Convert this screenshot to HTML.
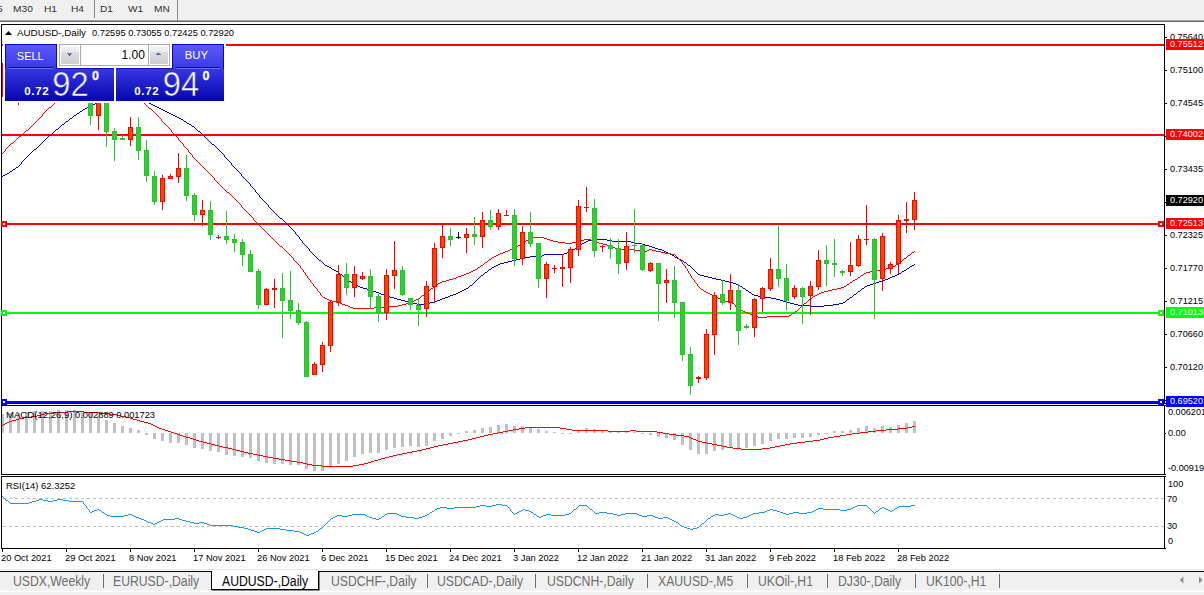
<!DOCTYPE html>
<html><head><meta charset="utf-8"><title>AUDUSD-,Daily</title>
<style>
html,body{margin:0;padding:0;background:#fff;overflow:hidden;}
body{width:1204px;height:595px;position:relative;overflow:hidden;font-family:"Liberation Sans",sans-serif;}
.t{position:absolute;white-space:nowrap;line-height:1.2;transform-origin:0 0;font-family:"Liberation Sans",sans-serif;}
.abs{position:absolute;}
#tb{left:0;top:0;width:1204px;height:19px;background:#f0f0f0;}
#tb1{left:0;top:19px;width:1204px;height:1px;background:#f6f6f6;}
#tb2{left:0;top:20px;width:1204px;height:1px;background:#a0a0a0;}
#tb3{left:0;top:21px;width:1204px;height:1px;background:#696969;}
.sep{width:1px;background:#8c8c8c;top:0;height:18px;}
#d1{left:95px;top:0;width:24px;height:18px;background-color:#f8f8f8;
  background-image:linear-gradient(45deg,#e9e9e9 25%,transparent 25%,transparent 75%,#e9e9e9 75%),linear-gradient(45deg,#e9e9e9 25%,transparent 25%,transparent 75%,#e9e9e9 75%);
  background-size:2px 2px;background-position:0 0,1px 1px;}
#tabbar{left:0;top:572px;width:1204px;height:23px;background:#f0f0f0;}
#tabl0{left:0;top:569px;width:1204px;height:1px;background:#e3e3e3;}
#tabl1{left:0;top:571px;width:1204px;height:1px;background:#000;}
#tabl2{left:0;top:590px;width:1204px;height:2px;background:linear-gradient(#f6f6f6 50%,#fff 50%);}
#tabact{left:211px;top:571px;width:106px;height:18px;background:#fff;border:1px solid #000;border-top:none;box-shadow:1px 1px 0 #888;}
.tsep{width:1px;height:14px;top:574px;background:#6d6d6d;}
/* trade panel */
#panel{left:3px;top:42px;width:223px;height:61px;background:#fff;}
.blue{position:absolute;}
</style></head><body>
<div class="abs" id="tb"></div><div class="abs" id="tb1"></div><div class="abs" id="tb2"></div><div class="abs" id="tb3"></div>
<div class="abs sep" style="left:94px"></div><div class="abs" id="d1"></div><div class="abs sep" style="left:177px;height:20px"></div>
<svg class="abs" style="left:0;top:0" width="1204" height="595" viewBox="0 0 1204 595" shape-rendering="crispEdges">
<rect x="1" y="24" width="1" height="525" fill="#000"/>
<rect x="1" y="24" width="1164" height="1" fill="#000"/>
<rect x="1164" y="24" width="1" height="525" fill="#000"/>
<rect x="1" y="403" width="1164" height="1" fill="#000"/>
<rect x="1" y="405" width="1164" height="1" fill="#000"/>
<rect x="1" y="474" width="1164" height="1" fill="#000"/>
<rect x="1" y="476" width="1164" height="1" fill="#000"/>
<rect x="1" y="548" width="1164" height="1" fill="#000"/>
<rect x="0" y="404" width="1204" height="1" fill="#fff"/>
<rect x="0" y="475" width="1204" height="1" fill="#fff"/>
<line x1="3" y1="498.5" x2="1164" y2="498.5" stroke="#C0C0C0" stroke-width="1" stroke-dasharray="3 3"/>
<line x1="3" y1="526.5" x2="1164" y2="526.5" stroke="#C0C0C0" stroke-width="1" stroke-dasharray="3 3"/>
<rect x="2" y="44" width="1162" height="2" fill="#FF0000"/>
<rect x="2" y="134" width="1162" height="2" fill="#FF0000"/>
<rect x="2" y="223" width="1162" height="2" fill="#FF0000"/>
<rect x="2" y="312" width="1162" height="2" fill="#00FF00"/>
<path d="M118 95h9v1h-9zM109 96h9v1h-9zM127 96h4v1h-4zM107 97h2v1h-2zM131 97h4v1h-4zM105 98h2v1h-2zM135 98h4v1h-4zM103 99h2v1h-2zM139 99h3v1h-3zM101 100h2v1h-2zM142 100h2v1h-2zM99 101h2v1h-2zM144 101h3v1h-3zM97 102h2v1h-2zM147 102h2v1h-2zM95 103h2v1h-2zM149 103h2v1h-2zM93 104h2v1h-2zM151 104h2v1h-2zM91 105h2v1h-2zM153 105h2v1h-2zM89 106h2v1h-2zM155 106h2v1h-2zM87 107h2v1h-2zM157 107h2v1h-2zM85 108h2v1h-2zM159 108h2v1h-2zM83 109h2v1h-2zM161 109h2v1h-2zM82 110h1v1h-1zM163 110h2v1h-2zM80 111h2v1h-2zM165 111h2v1h-2zM79 112h1v1h-1zM167 112h2v1h-2zM77 113h2v1h-2zM169 113h2v1h-2zM76 114h1v1h-1zM171 114h2v1h-2zM74 115h2v1h-2zM173 115h2v1h-2zM73 116h1v1h-1zM175 116h2v1h-2zM72 117h1v1h-1zM177 117h2v1h-2zM70 118h2v1h-2zM179 118h2v1h-2zM69 119h1v1h-1zM181 119h2v1h-2zM68 120h1v1h-1zM183 120h1v1h-1zM66 121h2v1h-2zM184 121h2v1h-2zM65 122h1v1h-1zM186 122h1v1h-1zM64 123h1v1h-1zM187 123h2v1h-2zM62 124h2v1h-2zM189 124h2v1h-2zM61 125h1v1h-1zM191 125h1v1h-1zM60 126h1v1h-1zM192 126h2v1h-2zM59 127h1v1h-1zM194 127h1v1h-1zM58 128h1v1h-1zM195 128h1v1h-1zM56 129h2v1h-2zM196 129h1v1h-1zM55 130h1v1h-1zM197 130h1v1h-1zM54 131h1v1h-1zM198 131h2v1h-2zM53 132h1v1h-1zM200 132h1v1h-1zM52 133h1v1h-1zM201 133h1v1h-1zM51 134h1v1h-1zM202 134h1v1h-1zM49 135h2v1h-2zM203 135h1v1h-1zM48 136h1v1h-1zM204 136h1v1h-1zM47 137h1v1h-1zM205 137h1v1h-1zM46 138h1v1h-1zM206 138h1v1h-1zM45 139h1v1h-1zM207 139h1v1h-1zM44 140h1v1h-1zM208 140h1v1h-1zM43 141h1v1h-1zM209 141h1v1h-1zM42 142h1v1h-1zM210 142h1v1h-1zM41 143h1v1h-1zM211 143h1v1h-1zM40 144h1v1h-1zM212 144h2v1h-2zM39 145h1v1h-1zM214 145h1v1h-1zM38 146h1v1h-1zM215 146h1v1h-1zM37 147h1v1h-1zM216 147h1v1h-1zM36 148h1v1h-1zM217 148h1v1h-1zM34 149h2v1h-2zM218 149h1v1h-1zM33 150h1v1h-1zM219 150h1v1h-1zM32 151h1v1h-1zM220 151h1v1h-1zM31 152h1v1h-1zM221 152h1v1h-1zM30 153h1v1h-1zM222 153h1v1h-1zM29 154h1v1h-1zM223 154h1v1h-1zM28 155h1v1h-1zM224 155h1v1h-1zM27 156h1v1h-1zM224 156h1v1h-1zM26 157h1v1h-1zM225 157h1v1h-1zM25 158h1v1h-1zM226 158h1v1h-1zM24 159h1v1h-1zM227 159h1v1h-1zM23 160h1v1h-1zM228 160h1v1h-1zM22 161h1v1h-1zM229 161h1v1h-1zM21 162h1v1h-1zM230 162h1v1h-1zM21 163h1v1h-1zM231 163h1v1h-1zM20 164h1v1h-1zM231 164h1v1h-1zM19 165h1v1h-1zM232 165h1v1h-1zM18 166h1v1h-1zM233 166h1v1h-1zM16 167h2v1h-2zM234 167h1v1h-1zM15 168h1v1h-1zM235 168h1v1h-1zM13 169h2v1h-2zM236 169h1v1h-1zM12 170h1v1h-1zM237 170h1v1h-1zM10 171h2v1h-2zM238 171h1v1h-1zM9 172h1v1h-1zM239 172h1v1h-1zM7 173h2v1h-2zM240 173h1v1h-1zM5 174h2v1h-2zM241 174h1v1h-1zM3 175h2v1h-2zM241 175h1v1h-1zM2 176h1v1h-1zM242 176h1v1h-1zM243 177h1v1h-1zM244 178h1v1h-1zM245 179h1v1h-1zM246 180h1v1h-1zM247 181h1v1h-1zM248 182h1v1h-1zM249 183h1v1h-1zM250 184h1v1h-1zM250 185h1v1h-1zM251 186h1v1h-1zM252 187h1v1h-1zM253 188h1v1h-1zM254 189h1v1h-1zM255 190h1v1h-1zM255 191h1v1h-1zM256 192h1v1h-1zM257 193h1v1h-1zM258 194h1v1h-1zM259 195h1v1h-1zM259 196h1v1h-1zM260 197h1v1h-1zM261 198h1v1h-1zM262 199h1v1h-1zM263 200h1v1h-1zM264 201h1v1h-1zM265 202h1v1h-1zM266 203h1v1h-1zM267 204h1v1h-1zM268 205h1v1h-1zM268 206h1v1h-1zM269 207h1v1h-1zM270 208h1v1h-1zM271 209h1v1h-1zM272 210h1v1h-1zM273 211h1v1h-1zM274 212h1v1h-1zM275 213h1v1h-1zM276 214h1v1h-1zM277 215h1v1h-1zM278 216h1v1h-1zM279 217h1v1h-1zM280 218h2v1h-2zM282 219h1v1h-1zM283 220h1v1h-1zM284 221h1v1h-1zM285 222h1v1h-1zM286 223h1v1h-1zM287 224h1v1h-1zM288 225h1v1h-1zM289 226h1v1h-1zM290 227h1v1h-1zM291 228h1v1h-1zM292 229h1v1h-1zM293 230h1v1h-1zM294 231h1v1h-1zM295 232h1v1h-1zM295 233h1v1h-1zM296 234h1v1h-1zM297 235h1v1h-1zM298 236h1v1h-1zM299 237h1v1h-1zM299 238h1v1h-1zM300 239h1v1h-1zM593 239h14v1h-14zM301 240h1v1h-1zM588 240h5v1h-5zM607 240h5v1h-5zM302 241h1v1h-1zM586 241h2v1h-2zM612 241h19v1h-19zM302 242h1v1h-1zM584 242h2v1h-2zM631 242h4v1h-4zM303 243h1v1h-1zM582 243h2v1h-2zM635 243h7v1h-7zM304 244h1v1h-1zM581 244h1v1h-1zM642 244h3v1h-3zM305 245h1v1h-1zM580 245h1v1h-1zM645 245h4v1h-4zM306 246h1v1h-1zM578 246h2v1h-2zM649 246h3v1h-3zM307 247h1v1h-1zM577 247h1v1h-1zM652 247h3v1h-3zM308 248h1v1h-1zM575 248h2v1h-2zM655 248h3v1h-3zM309 249h1v1h-1zM573 249h2v1h-2zM658 249h4v1h-4zM309 250h1v1h-1zM571 250h2v1h-2zM662 250h2v1h-2zM310 251h1v1h-1zM569 251h2v1h-2zM664 251h2v1h-2zM311 252h1v1h-1zM567 252h2v1h-2zM666 252h2v1h-2zM312 253h1v1h-1zM564 253h3v1h-3zM668 253h2v1h-2zM313 254h1v1h-1zM544 254h20v1h-20zM670 254h2v1h-2zM314 255h1v1h-1zM542 255h2v1h-2zM672 255h2v1h-2zM315 256h1v1h-1zM530 256h12v1h-12zM674 256h1v1h-1zM316 257h1v1h-1zM525 257h5v1h-5zM675 257h2v1h-2zM317 258h1v1h-1zM520 258h5v1h-5zM677 258h2v1h-2zM318 259h1v1h-1zM516 259h4v1h-4zM679 259h2v1h-2zM319 260h2v1h-2zM512 260h4v1h-4zM681 260h2v1h-2zM321 261h1v1h-1zM508 261h4v1h-4zM683 261h1v1h-1zM322 262h1v1h-1zM504 262h4v1h-4zM684 262h2v1h-2zM323 263h1v1h-1zM500 263h4v1h-4zM686 263h1v1h-1zM324 264h1v1h-1zM498 264h2v1h-2zM687 264h1v1h-1zM914 264h1v1h-1zM325 265h2v1h-2zM496 265h2v1h-2zM688 265h2v1h-2zM912 265h2v1h-2zM327 266h2v1h-2zM494 266h2v1h-2zM690 266h1v1h-1zM910 266h2v1h-2zM329 267h2v1h-2zM492 267h2v1h-2zM691 267h1v1h-1zM909 267h1v1h-1zM331 268h1v1h-1zM491 268h1v1h-1zM692 268h1v1h-1zM907 268h2v1h-2zM332 269h2v1h-2zM489 269h2v1h-2zM693 269h1v1h-1zM906 269h1v1h-1zM334 270h2v1h-2zM488 270h1v1h-1zM694 270h1v1h-1zM904 270h2v1h-2zM336 271h2v1h-2zM487 271h1v1h-1zM695 271h1v1h-1zM902 271h2v1h-2zM338 272h1v1h-1zM485 272h2v1h-2zM696 272h1v1h-1zM901 272h1v1h-1zM339 273h1v1h-1zM484 273h1v1h-1zM697 273h1v1h-1zM899 273h2v1h-2zM340 274h2v1h-2zM483 274h1v1h-1zM698 274h2v1h-2zM897 274h2v1h-2zM342 275h1v1h-1zM481 275h2v1h-2zM700 275h4v1h-4zM895 275h2v1h-2zM343 276h1v1h-1zM480 276h1v1h-1zM704 276h4v1h-4zM892 276h3v1h-3zM344 277h1v1h-1zM479 277h1v1h-1zM708 277h4v1h-4zM890 277h2v1h-2zM345 278h2v1h-2zM478 278h1v1h-1zM712 278h4v1h-4zM888 278h2v1h-2zM347 279h1v1h-1zM477 279h1v1h-1zM716 279h5v1h-5zM885 279h3v1h-3zM348 280h1v1h-1zM476 280h1v1h-1zM721 280h4v1h-4zM882 280h3v1h-3zM349 281h2v1h-2zM475 281h1v1h-1zM725 281h4v1h-4zM879 281h3v1h-3zM351 282h2v1h-2zM474 282h1v1h-1zM729 282h4v1h-4zM876 282h3v1h-3zM353 283h1v1h-1zM473 283h1v1h-1zM733 283h3v1h-3zM873 283h3v1h-3zM354 284h2v1h-2zM472 284h1v1h-1zM736 284h2v1h-2zM870 284h3v1h-3zM356 285h2v1h-2zM470 285h2v1h-2zM738 285h2v1h-2zM867 285h3v1h-3zM358 286h2v1h-2zM469 286h1v1h-1zM740 286h2v1h-2zM865 286h2v1h-2zM360 287h3v1h-3zM468 287h1v1h-1zM742 287h1v1h-1zM864 287h1v1h-1zM363 288h4v1h-4zM466 288h2v1h-2zM743 288h2v1h-2zM862 288h2v1h-2zM367 289h3v1h-3zM464 289h2v1h-2zM745 289h1v1h-1zM861 289h1v1h-1zM370 290h3v1h-3zM462 290h2v1h-2zM746 290h2v1h-2zM860 290h1v1h-1zM373 291h3v1h-3zM460 291h2v1h-2zM748 291h1v1h-1zM858 291h2v1h-2zM376 292h3v1h-3zM458 292h2v1h-2zM749 292h2v1h-2zM857 292h1v1h-1zM379 293h2v1h-2zM456 293h2v1h-2zM751 293h1v1h-1zM856 293h1v1h-1zM381 294h3v1h-3zM453 294h3v1h-3zM752 294h2v1h-2zM854 294h2v1h-2zM384 295h3v1h-3zM450 295h3v1h-3zM754 295h4v1h-4zM853 295h1v1h-1zM387 296h3v1h-3zM448 296h2v1h-2zM758 296h7v1h-7zM852 296h1v1h-1zM390 297h4v1h-4zM445 297h3v1h-3zM765 297h6v1h-6zM850 297h2v1h-2zM394 298h3v1h-3zM442 298h3v1h-3zM771 298h5v1h-5zM849 298h1v1h-1zM397 299h4v1h-4zM440 299h2v1h-2zM776 299h4v1h-4zM847 299h2v1h-2zM401 300h4v1h-4zM437 300h3v1h-3zM780 300h3v1h-3zM846 300h1v1h-1zM405 301h4v1h-4zM435 301h2v1h-2zM783 301h4v1h-4zM845 301h1v1h-1zM409 302h4v1h-4zM430 302h5v1h-5zM787 302h3v1h-3zM843 302h2v1h-2zM413 303h4v1h-4zM424 303h6v1h-6zM790 303h4v1h-4zM839 303h4v1h-4zM417 304h7v1h-7zM794 304h4v1h-4zM833 304h6v1h-6zM798 305h12v1h-12zM824 305h9v1h-9zM810 306h14v1h-14z" fill="#0000CD"/>
<path d="M97 76h5v1h-5zM89 77h8v1h-8zM102 77h4v1h-4zM85 78h4v1h-4zM106 78h4v1h-4zM83 79h2v1h-2zM110 79h4v1h-4zM82 80h1v1h-1zM114 80h2v1h-2zM80 81h2v1h-2zM116 81h2v1h-2zM79 82h1v1h-1zM118 82h1v1h-1zM77 83h2v1h-2zM119 83h2v1h-2zM76 84h1v1h-1zM121 84h1v1h-1zM74 85h2v1h-2zM122 85h2v1h-2zM73 86h1v1h-1zM124 86h1v1h-1zM71 87h2v1h-2zM125 87h2v1h-2zM70 88h1v1h-1zM127 88h1v1h-1zM69 89h1v1h-1zM128 89h2v1h-2zM68 90h1v1h-1zM130 90h1v1h-1zM67 91h1v1h-1zM131 91h1v1h-1zM66 92h1v1h-1zM132 92h1v1h-1zM65 93h1v1h-1zM133 93h1v1h-1zM64 94h1v1h-1zM134 94h1v1h-1zM62 95h2v1h-2zM135 95h1v1h-1zM61 96h1v1h-1zM136 96h1v1h-1zM60 97h1v1h-1zM137 97h2v1h-2zM59 98h1v1h-1zM139 98h1v1h-1zM58 99h1v1h-1zM140 99h1v1h-1zM57 100h1v1h-1zM141 100h1v1h-1zM56 101h1v1h-1zM142 101h1v1h-1zM55 102h1v1h-1zM143 102h1v1h-1zM54 103h1v1h-1zM144 103h1v1h-1zM53 104h1v1h-1zM145 104h1v1h-1zM52 105h1v1h-1zM146 105h1v1h-1zM51 106h1v1h-1zM147 106h1v1h-1zM49 107h2v1h-2zM148 107h1v1h-1zM48 108h1v1h-1zM149 108h2v1h-2zM47 109h1v1h-1zM151 109h1v1h-1zM46 110h1v1h-1zM152 110h1v1h-1zM45 111h1v1h-1zM153 111h1v1h-1zM44 112h1v1h-1zM154 112h1v1h-1zM43 113h1v1h-1zM155 113h1v1h-1zM42 114h1v1h-1zM156 114h1v1h-1zM42 115h1v1h-1zM157 115h1v1h-1zM41 116h1v1h-1zM158 116h1v1h-1zM40 117h1v1h-1zM159 117h1v1h-1zM39 118h1v1h-1zM160 118h1v1h-1zM38 119h1v1h-1zM161 119h1v1h-1zM37 120h1v1h-1zM161 120h1v1h-1zM36 121h1v1h-1zM162 121h1v1h-1zM35 122h1v1h-1zM163 122h1v1h-1zM34 123h1v1h-1zM164 123h1v1h-1zM33 124h1v1h-1zM165 124h1v1h-1zM32 125h1v1h-1zM166 125h1v1h-1zM31 126h1v1h-1zM167 126h1v1h-1zM30 127h1v1h-1zM168 127h1v1h-1zM29 128h1v1h-1zM169 128h1v1h-1zM28 129h1v1h-1zM170 129h1v1h-1zM26 130h2v1h-2zM171 130h1v1h-1zM25 131h1v1h-1zM171 131h1v1h-1zM24 132h1v1h-1zM172 132h1v1h-1zM23 133h1v1h-1zM173 133h1v1h-1zM22 134h1v1h-1zM174 134h1v1h-1zM21 135h1v1h-1zM175 135h1v1h-1zM19 136h2v1h-2zM176 136h1v1h-1zM18 137h1v1h-1zM177 137h1v1h-1zM17 138h1v1h-1zM178 138h1v1h-1zM16 139h1v1h-1zM178 139h1v1h-1zM15 140h1v1h-1zM179 140h1v1h-1zM14 141h1v1h-1zM180 141h1v1h-1zM13 142h1v1h-1zM181 142h1v1h-1zM11 143h2v1h-2zM182 143h1v1h-1zM10 144h1v1h-1zM183 144h1v1h-1zM9 145h1v1h-1zM183 145h1v1h-1zM8 146h1v1h-1zM184 146h1v1h-1zM7 147h1v1h-1zM185 147h1v1h-1zM6 148h1v1h-1zM186 148h1v1h-1zM5 149h1v1h-1zM187 149h1v1h-1zM5 150h1v1h-1zM188 150h1v1h-1zM4 151h1v1h-1zM188 151h1v1h-1zM3 152h1v1h-1zM189 152h1v1h-1zM2 153h1v1h-1zM190 153h1v1h-1zM191 154h1v1h-1zM192 155h1v1h-1zM192 156h1v1h-1zM193 157h1v1h-1zM194 158h1v1h-1zM195 159h1v1h-1zM196 160h1v1h-1zM197 161h1v1h-1zM198 162h1v1h-1zM199 163h1v1h-1zM200 164h1v1h-1zM201 165h1v1h-1zM202 166h1v1h-1zM203 167h1v1h-1zM204 168h1v1h-1zM205 169h1v1h-1zM206 170h1v1h-1zM207 171h1v1h-1zM208 172h1v1h-1zM209 173h1v1h-1zM210 174h1v1h-1zM211 175h1v1h-1zM212 176h1v1h-1zM213 177h1v1h-1zM214 178h1v1h-1zM214 179h1v1h-1zM215 180h1v1h-1zM216 181h1v1h-1zM217 182h1v1h-1zM218 183h1v1h-1zM219 184h1v1h-1zM220 185h1v1h-1zM221 186h1v1h-1zM222 187h1v1h-1zM223 188h1v1h-1zM224 189h1v1h-1zM225 190h1v1h-1zM226 191h1v1h-1zM227 192h2v1h-2zM229 193h1v1h-1zM230 194h1v1h-1zM231 195h1v1h-1zM232 196h1v1h-1zM233 197h1v1h-1zM234 198h1v1h-1zM235 199h1v1h-1zM236 200h1v1h-1zM237 201h1v1h-1zM238 202h1v1h-1zM239 203h1v1h-1zM240 204h1v1h-1zM241 205h1v1h-1zM241 206h1v1h-1zM242 207h1v1h-1zM243 208h1v1h-1zM244 209h1v1h-1zM245 210h1v1h-1zM246 211h1v1h-1zM247 212h1v1h-1zM248 213h1v1h-1zM249 214h1v1h-1zM250 215h1v1h-1zM251 216h1v1h-1zM252 217h1v1h-1zM253 218h1v1h-1zM253 219h1v1h-1zM254 220h1v1h-1zM255 221h1v1h-1zM256 222h1v1h-1zM257 223h1v1h-1zM258 224h1v1h-1zM259 225h1v1h-1zM260 226h1v1h-1zM261 227h1v1h-1zM262 228h1v1h-1zM263 229h1v1h-1zM264 230h1v1h-1zM265 231h1v1h-1zM266 232h1v1h-1zM267 233h1v1h-1zM268 234h1v1h-1zM269 235h1v1h-1zM270 236h1v1h-1zM271 237h1v1h-1zM533 237h11v1h-11zM272 238h1v1h-1zM530 238h3v1h-3zM544 238h3v1h-3zM273 239h1v1h-1zM528 239h2v1h-2zM547 239h3v1h-3zM584 239h7v1h-7zM274 240h1v1h-1zM526 240h2v1h-2zM550 240h3v1h-3zM581 240h3v1h-3zM591 240h2v1h-2zM275 241h1v1h-1zM524 241h2v1h-2zM553 241h5v1h-5zM578 241h3v1h-3zM593 241h3v1h-3zM276 242h1v1h-1zM523 242h1v1h-1zM558 242h7v1h-7zM572 242h6v1h-6zM596 242h3v1h-3zM277 243h1v1h-1zM521 243h2v1h-2zM565 243h7v1h-7zM599 243h4v1h-4zM278 244h1v1h-1zM520 244h1v1h-1zM603 244h4v1h-4zM279 245h1v1h-1zM518 245h2v1h-2zM607 245h4v1h-4zM280 246h2v1h-2zM516 246h2v1h-2zM611 246h2v1h-2zM282 247h1v1h-1zM514 247h2v1h-2zM613 247h2v1h-2zM283 248h1v1h-1zM512 248h2v1h-2zM615 248h4v1h-4zM284 249h1v1h-1zM510 249h2v1h-2zM619 249h15v1h-15zM649 249h3v1h-3zM285 250h1v1h-1zM508 250h2v1h-2zM634 250h7v1h-7zM647 250h2v1h-2zM652 250h4v1h-4zM286 251h1v1h-1zM505 251h3v1h-3zM641 251h6v1h-6zM656 251h5v1h-5zM914 251h1v1h-1zM287 252h1v1h-1zM503 252h2v1h-2zM661 252h4v1h-4zM912 252h2v1h-2zM288 253h1v1h-1zM500 253h3v1h-3zM665 253h6v1h-6zM911 253h1v1h-1zM289 254h1v1h-1zM498 254h2v1h-2zM671 254h4v1h-4zM910 254h1v1h-1zM290 255h1v1h-1zM496 255h2v1h-2zM675 255h1v1h-1zM908 255h2v1h-2zM291 256h1v1h-1zM494 256h2v1h-2zM676 256h1v1h-1zM907 256h1v1h-1zM292 257h1v1h-1zM492 257h2v1h-2zM677 257h1v1h-1zM906 257h1v1h-1zM293 258h1v1h-1zM491 258h1v1h-1zM678 258h1v1h-1zM904 258h2v1h-2zM293 259h1v1h-1zM489 259h2v1h-2zM679 259h1v1h-1zM903 259h1v1h-1zM294 260h1v1h-1zM488 260h1v1h-1zM680 260h1v1h-1zM902 260h1v1h-1zM295 261h1v1h-1zM487 261h1v1h-1zM681 261h1v1h-1zM900 261h2v1h-2zM296 262h1v1h-1zM485 262h2v1h-2zM682 262h1v1h-1zM899 262h1v1h-1zM297 263h1v1h-1zM484 263h1v1h-1zM682 263h1v1h-1zM898 263h1v1h-1zM298 264h1v1h-1zM483 264h1v1h-1zM683 264h1v1h-1zM896 264h2v1h-2zM299 265h1v1h-1zM481 265h2v1h-2zM684 265h1v1h-1zM895 265h1v1h-1zM300 266h1v1h-1zM480 266h1v1h-1zM685 266h1v1h-1zM893 266h2v1h-2zM300 267h1v1h-1zM478 267h2v1h-2zM685 267h1v1h-1zM889 267h4v1h-4zM301 268h1v1h-1zM477 268h1v1h-1zM686 268h1v1h-1zM886 268h3v1h-3zM302 269h1v1h-1zM475 269h2v1h-2zM687 269h1v1h-1zM882 269h4v1h-4zM303 270h1v1h-1zM473 270h2v1h-2zM687 270h1v1h-1zM877 270h5v1h-5zM303 271h1v1h-1zM471 271h2v1h-2zM688 271h1v1h-1zM870 271h7v1h-7zM304 272h1v1h-1zM469 272h2v1h-2zM688 272h1v1h-1zM866 272h4v1h-4zM305 273h1v1h-1zM466 273h3v1h-3zM689 273h1v1h-1zM864 273h2v1h-2zM305 274h1v1h-1zM464 274h2v1h-2zM690 274h1v1h-1zM863 274h1v1h-1zM306 275h1v1h-1zM461 275h3v1h-3zM690 275h1v1h-1zM861 275h2v1h-2zM307 276h1v1h-1zM458 276h3v1h-3zM691 276h1v1h-1zM860 276h1v1h-1zM307 277h1v1h-1zM456 277h2v1h-2zM691 277h1v1h-1zM858 277h2v1h-2zM308 278h1v1h-1zM453 278h3v1h-3zM692 278h1v1h-1zM857 278h1v1h-1zM309 279h1v1h-1zM449 279h4v1h-4zM693 279h1v1h-1zM855 279h2v1h-2zM310 280h1v1h-1zM446 280h3v1h-3zM694 280h1v1h-1zM853 280h2v1h-2zM310 281h1v1h-1zM442 281h4v1h-4zM694 281h1v1h-1zM852 281h1v1h-1zM311 282h1v1h-1zM440 282h2v1h-2zM695 282h1v1h-1zM850 282h2v1h-2zM312 283h1v1h-1zM438 283h2v1h-2zM696 283h1v1h-1zM849 283h1v1h-1zM313 284h1v1h-1zM437 284h1v1h-1zM697 284h1v1h-1zM847 284h2v1h-2zM313 285h1v1h-1zM435 285h2v1h-2zM697 285h1v1h-1zM846 285h1v1h-1zM314 286h1v1h-1zM434 286h1v1h-1zM698 286h1v1h-1zM844 286h2v1h-2zM315 287h1v1h-1zM433 287h1v1h-1zM699 287h1v1h-1zM841 287h3v1h-3zM316 288h1v1h-1zM431 288h2v1h-2zM700 288h1v1h-1zM837 288h4v1h-4zM317 289h1v1h-1zM430 289h1v1h-1zM701 289h2v1h-2zM832 289h5v1h-5zM317 290h1v1h-1zM429 290h1v1h-1zM703 290h1v1h-1zM828 290h4v1h-4zM318 291h1v1h-1zM428 291h1v1h-1zM704 291h2v1h-2zM824 291h4v1h-4zM319 292h1v1h-1zM426 292h2v1h-2zM706 292h2v1h-2zM821 292h3v1h-3zM320 293h1v1h-1zM425 293h1v1h-1zM708 293h2v1h-2zM819 293h2v1h-2zM320 294h1v1h-1zM424 294h1v1h-1zM710 294h2v1h-2zM817 294h2v1h-2zM321 295h1v1h-1zM422 295h2v1h-2zM712 295h2v1h-2zM815 295h2v1h-2zM322 296h1v1h-1zM421 296h1v1h-1zM714 296h2v1h-2zM813 296h2v1h-2zM323 297h2v1h-2zM420 297h1v1h-1zM716 297h2v1h-2zM812 297h1v1h-1zM325 298h2v1h-2zM418 298h2v1h-2zM718 298h2v1h-2zM811 298h1v1h-1zM327 299h2v1h-2zM416 299h2v1h-2zM720 299h2v1h-2zM809 299h2v1h-2zM329 300h3v1h-3zM414 300h2v1h-2zM722 300h3v1h-3zM808 300h1v1h-1zM332 301h4v1h-4zM412 301h2v1h-2zM725 301h3v1h-3zM807 301h1v1h-1zM336 302h4v1h-4zM410 302h2v1h-2zM728 302h4v1h-4zM806 302h1v1h-1zM340 303h2v1h-2zM406 303h4v1h-4zM732 303h2v1h-2zM804 303h2v1h-2zM342 304h3v1h-3zM402 304h4v1h-4zM734 304h1v1h-1zM803 304h1v1h-1zM345 305h3v1h-3zM398 305h4v1h-4zM735 305h1v1h-1zM802 305h1v1h-1zM348 306h2v1h-2zM389 306h9v1h-9zM735 306h1v1h-1zM801 306h1v1h-1zM350 307h3v1h-3zM374 307h15v1h-15zM736 307h1v1h-1zM800 307h1v1h-1zM353 308h21v1h-21zM737 308h2v1h-2zM799 308h1v1h-1zM739 309h2v1h-2zM798 309h1v1h-1zM741 310h2v1h-2zM797 310h1v1h-1zM743 311h2v1h-2zM795 311h2v1h-2zM745 312h3v1h-3zM794 312h1v1h-1zM748 313h2v1h-2zM792 313h2v1h-2zM750 314h3v1h-3zM791 314h1v1h-1zM753 315h3v1h-3zM789 315h2v1h-2zM756 316h2v1h-2zM767 316h22v1h-22zM758 317h9v1h-9z" fill="#FF0000"/>
<rect x="2" y="63" width="1" height="34" fill="#FF0000"/>
<rect x="18" y="80" width="1" height="25" fill="#FF0000"/>
<rect x="16" y="85" width="5" height="10" fill="#FF0000"/>
<rect x="17" y="86" width="3" height="8" fill="#FF4500"/>
<rect x="90" y="88" width="1" height="37" fill="#22C822"/>
<rect x="88" y="92" width="5" height="24" fill="#22C822"/>
<rect x="89" y="93" width="3" height="22" fill="#32CD32"/>
<rect x="98" y="88" width="1" height="42" fill="#FF0000"/>
<rect x="96" y="92" width="5" height="24" fill="#FF0000"/>
<rect x="97" y="93" width="3" height="22" fill="#FF4500"/>
<rect x="106" y="88" width="1" height="59" fill="#22C822"/>
<rect x="104" y="92" width="5" height="40" fill="#22C822"/>
<rect x="105" y="93" width="3" height="38" fill="#32CD32"/>
<rect x="114" y="128" width="1" height="33" fill="#22C822"/>
<rect x="112" y="131" width="5" height="9" fill="#22C822"/>
<rect x="113" y="132" width="3" height="7" fill="#32CD32"/>
<rect x="122" y="135" width="1" height="5" fill="#22C822"/>
<rect x="120" y="138" width="5" height="2" fill="#22C822"/>
<rect x="130" y="117" width="1" height="29" fill="#FF0000"/>
<rect x="128" y="127" width="5" height="13" fill="#FF0000"/>
<rect x="129" y="128" width="3" height="11" fill="#FF4500"/>
<rect x="138" y="117" width="1" height="43" fill="#22C822"/>
<rect x="136" y="127" width="5" height="24" fill="#22C822"/>
<rect x="137" y="128" width="3" height="22" fill="#32CD32"/>
<rect x="146" y="140" width="1" height="42" fill="#22C822"/>
<rect x="144" y="150" width="5" height="26" fill="#22C822"/>
<rect x="145" y="151" width="3" height="24" fill="#32CD32"/>
<rect x="154" y="171" width="1" height="34" fill="#22C822"/>
<rect x="152" y="176" width="5" height="26" fill="#22C822"/>
<rect x="153" y="177" width="3" height="24" fill="#32CD32"/>
<rect x="162" y="175" width="1" height="35" fill="#FF0000"/>
<rect x="160" y="178" width="5" height="24" fill="#FF0000"/>
<rect x="161" y="179" width="3" height="22" fill="#FF4500"/>
<rect x="170" y="174" width="1" height="5" fill="#FF0000"/>
<rect x="168" y="176" width="5" height="3" fill="#FF0000"/>
<rect x="169" y="177" width="3" height="1" fill="#FF4500"/>
<rect x="178" y="153" width="1" height="30" fill="#FF0000"/>
<rect x="176" y="168" width="5" height="9" fill="#FF0000"/>
<rect x="177" y="169" width="3" height="7" fill="#FF4500"/>
<rect x="186" y="155" width="1" height="46" fill="#22C822"/>
<rect x="184" y="168" width="5" height="28" fill="#22C822"/>
<rect x="185" y="169" width="3" height="26" fill="#32CD32"/>
<rect x="194" y="193" width="1" height="28" fill="#22C822"/>
<rect x="192" y="195" width="5" height="20" fill="#22C822"/>
<rect x="193" y="196" width="3" height="18" fill="#32CD32"/>
<rect x="202" y="200" width="1" height="26" fill="#FF0000"/>
<rect x="200" y="210" width="5" height="5" fill="#FF0000"/>
<rect x="201" y="211" width="3" height="3" fill="#FF4500"/>
<rect x="210" y="201" width="1" height="39" fill="#22C822"/>
<rect x="208" y="210" width="5" height="25" fill="#22C822"/>
<rect x="209" y="211" width="3" height="23" fill="#32CD32"/>
<rect x="218" y="235" width="1" height="4" fill="#FF0000"/>
<rect x="216" y="237" width="5" height="1" fill="#FF0000"/>
<rect x="226" y="211" width="1" height="33" fill="#22C822"/>
<rect x="224" y="236" width="5" height="4" fill="#22C822"/>
<rect x="225" y="237" width="3" height="2" fill="#32CD32"/>
<rect x="234" y="234" width="1" height="18" fill="#22C822"/>
<rect x="232" y="239" width="5" height="4" fill="#22C822"/>
<rect x="233" y="240" width="3" height="2" fill="#32CD32"/>
<rect x="242" y="239" width="1" height="27" fill="#22C822"/>
<rect x="240" y="242" width="5" height="13" fill="#22C822"/>
<rect x="241" y="243" width="3" height="11" fill="#32CD32"/>
<rect x="250" y="250" width="1" height="22" fill="#22C822"/>
<rect x="248" y="254" width="5" height="18" fill="#22C822"/>
<rect x="249" y="255" width="3" height="16" fill="#32CD32"/>
<rect x="258" y="269" width="1" height="40" fill="#22C822"/>
<rect x="256" y="271" width="5" height="34" fill="#22C822"/>
<rect x="257" y="272" width="3" height="32" fill="#32CD32"/>
<rect x="266" y="288" width="1" height="17" fill="#FF0000"/>
<rect x="264" y="289" width="5" height="16" fill="#FF0000"/>
<rect x="265" y="290" width="3" height="14" fill="#FF4500"/>
<rect x="274" y="279" width="1" height="29" fill="#FF0000"/>
<rect x="272" y="288" width="5" height="2" fill="#FF0000"/>
<rect x="282" y="273" width="1" height="65" fill="#22C822"/>
<rect x="280" y="288" width="5" height="13" fill="#22C822"/>
<rect x="281" y="289" width="3" height="11" fill="#32CD32"/>
<rect x="290" y="271" width="1" height="48" fill="#22C822"/>
<rect x="288" y="300" width="5" height="11" fill="#22C822"/>
<rect x="289" y="301" width="3" height="9" fill="#32CD32"/>
<rect x="298" y="303" width="1" height="22" fill="#22C822"/>
<rect x="296" y="310" width="5" height="13" fill="#22C822"/>
<rect x="297" y="311" width="3" height="11" fill="#32CD32"/>
<rect x="306" y="321" width="1" height="56" fill="#22C822"/>
<rect x="304" y="322" width="5" height="55" fill="#22C822"/>
<rect x="305" y="323" width="3" height="53" fill="#32CD32"/>
<rect x="314" y="362" width="1" height="13" fill="#FF0000"/>
<rect x="312" y="364" width="5" height="11" fill="#FF0000"/>
<rect x="313" y="365" width="3" height="9" fill="#FF4500"/>
<rect x="322" y="342" width="1" height="30" fill="#FF0000"/>
<rect x="320" y="345" width="5" height="20" fill="#FF0000"/>
<rect x="321" y="346" width="3" height="18" fill="#FF4500"/>
<rect x="330" y="301" width="1" height="51" fill="#FF0000"/>
<rect x="328" y="302" width="5" height="44" fill="#FF0000"/>
<rect x="329" y="303" width="3" height="42" fill="#FF4500"/>
<rect x="338" y="265" width="1" height="41" fill="#FF0000"/>
<rect x="336" y="274" width="5" height="29" fill="#FF0000"/>
<rect x="337" y="275" width="3" height="27" fill="#FF4500"/>
<rect x="346" y="263" width="1" height="32" fill="#22C822"/>
<rect x="344" y="274" width="5" height="14" fill="#22C822"/>
<rect x="345" y="275" width="3" height="12" fill="#32CD32"/>
<rect x="354" y="266" width="1" height="31" fill="#FF0000"/>
<rect x="352" y="274" width="5" height="14" fill="#FF0000"/>
<rect x="353" y="275" width="3" height="12" fill="#FF4500"/>
<rect x="362" y="272" width="1" height="8" fill="#FF0000"/>
<rect x="360" y="276" width="5" height="3" fill="#FF0000"/>
<rect x="361" y="277" width="3" height="1" fill="#FF4500"/>
<rect x="370" y="269" width="1" height="40" fill="#22C822"/>
<rect x="368" y="276" width="5" height="21" fill="#22C822"/>
<rect x="369" y="277" width="3" height="19" fill="#32CD32"/>
<rect x="378" y="294" width="1" height="28" fill="#22C822"/>
<rect x="376" y="296" width="5" height="17" fill="#22C822"/>
<rect x="377" y="297" width="3" height="15" fill="#32CD32"/>
<rect x="386" y="269" width="1" height="51" fill="#FF0000"/>
<rect x="384" y="275" width="5" height="38" fill="#FF0000"/>
<rect x="385" y="276" width="3" height="36" fill="#FF4500"/>
<rect x="394" y="241" width="1" height="48" fill="#FF0000"/>
<rect x="392" y="270" width="5" height="6" fill="#FF0000"/>
<rect x="393" y="271" width="3" height="4" fill="#FF4500"/>
<rect x="402" y="266" width="1" height="30" fill="#22C822"/>
<rect x="400" y="270" width="5" height="25" fill="#22C822"/>
<rect x="401" y="271" width="3" height="23" fill="#32CD32"/>
<rect x="410" y="298" width="1" height="12" fill="#22C822"/>
<rect x="408" y="298" width="5" height="7" fill="#22C822"/>
<rect x="409" y="299" width="3" height="5" fill="#32CD32"/>
<rect x="418" y="298" width="1" height="28" fill="#22C822"/>
<rect x="416" y="305" width="5" height="5" fill="#22C822"/>
<rect x="417" y="306" width="3" height="3" fill="#32CD32"/>
<rect x="426" y="281" width="1" height="36" fill="#FF0000"/>
<rect x="424" y="286" width="5" height="23" fill="#FF0000"/>
<rect x="425" y="287" width="3" height="21" fill="#FF4500"/>
<rect x="434" y="243" width="1" height="60" fill="#FF0000"/>
<rect x="432" y="248" width="5" height="39" fill="#FF0000"/>
<rect x="433" y="249" width="3" height="37" fill="#FF4500"/>
<rect x="442" y="224" width="1" height="34" fill="#FF0000"/>
<rect x="440" y="236" width="5" height="12" fill="#FF0000"/>
<rect x="441" y="237" width="3" height="10" fill="#FF4500"/>
<rect x="450" y="228" width="1" height="18" fill="#22C822"/>
<rect x="448" y="236" width="5" height="4" fill="#22C822"/>
<rect x="449" y="237" width="3" height="2" fill="#32CD32"/>
<rect x="458" y="232" width="1" height="7" fill="#000"/>
<rect x="456" y="237" width="5" height="1" fill="#000"/>
<rect x="466" y="228" width="1" height="25" fill="#FF0000"/>
<rect x="464" y="234" width="5" height="4" fill="#FF0000"/>
<rect x="465" y="235" width="3" height="2" fill="#FF4500"/>
<rect x="474" y="217" width="1" height="28" fill="#22C822"/>
<rect x="472" y="234" width="5" height="3" fill="#22C822"/>
<rect x="473" y="235" width="3" height="1" fill="#32CD32"/>
<rect x="482" y="212" width="1" height="36" fill="#FF0000"/>
<rect x="480" y="220" width="5" height="17" fill="#FF0000"/>
<rect x="481" y="221" width="3" height="15" fill="#FF4500"/>
<rect x="490" y="210" width="1" height="20" fill="#22C822"/>
<rect x="488" y="220" width="5" height="7" fill="#22C822"/>
<rect x="489" y="221" width="3" height="5" fill="#32CD32"/>
<rect x="498" y="209" width="1" height="21" fill="#FF0000"/>
<rect x="496" y="213" width="5" height="14" fill="#FF0000"/>
<rect x="497" y="214" width="3" height="12" fill="#FF4500"/>
<rect x="506" y="210" width="1" height="6" fill="#FF0000"/>
<rect x="504" y="215" width="5" height="1" fill="#FF0000"/>
<rect x="514" y="209" width="1" height="57" fill="#22C822"/>
<rect x="512" y="215" width="5" height="44" fill="#22C822"/>
<rect x="513" y="216" width="3" height="42" fill="#32CD32"/>
<rect x="522" y="226" width="1" height="39" fill="#FF0000"/>
<rect x="520" y="232" width="5" height="27" fill="#FF0000"/>
<rect x="521" y="233" width="3" height="25" fill="#FF4500"/>
<rect x="530" y="212" width="1" height="35" fill="#22C822"/>
<rect x="528" y="232" width="5" height="12" fill="#22C822"/>
<rect x="529" y="233" width="3" height="10" fill="#32CD32"/>
<rect x="538" y="243" width="1" height="45" fill="#22C822"/>
<rect x="536" y="243" width="5" height="36" fill="#22C822"/>
<rect x="537" y="244" width="3" height="34" fill="#32CD32"/>
<rect x="546" y="262" width="1" height="36" fill="#FF0000"/>
<rect x="544" y="264" width="5" height="15" fill="#FF0000"/>
<rect x="545" y="265" width="3" height="13" fill="#FF4500"/>
<rect x="554" y="265" width="1" height="8" fill="#FF0000"/>
<rect x="552" y="268" width="5" height="1" fill="#FF0000"/>
<rect x="562" y="254" width="1" height="33" fill="#FF0000"/>
<rect x="560" y="267" width="5" height="2" fill="#FF0000"/>
<rect x="570" y="247" width="1" height="36" fill="#FF0000"/>
<rect x="568" y="249" width="5" height="19" fill="#FF0000"/>
<rect x="569" y="250" width="3" height="17" fill="#FF4500"/>
<rect x="578" y="200" width="1" height="56" fill="#FF0000"/>
<rect x="576" y="206" width="5" height="44" fill="#FF0000"/>
<rect x="577" y="207" width="3" height="42" fill="#FF4500"/>
<rect x="586" y="187" width="1" height="25" fill="#FF0000"/>
<rect x="584" y="207" width="5" height="1" fill="#FF0000"/>
<rect x="594" y="199" width="1" height="58" fill="#22C822"/>
<rect x="592" y="208" width="5" height="43" fill="#22C822"/>
<rect x="593" y="209" width="3" height="41" fill="#32CD32"/>
<rect x="602" y="245" width="1" height="7" fill="#FF0000"/>
<rect x="600" y="246" width="5" height="1" fill="#FF0000"/>
<rect x="610" y="238" width="1" height="21" fill="#22C822"/>
<rect x="608" y="245" width="5" height="4" fill="#22C822"/>
<rect x="609" y="246" width="3" height="2" fill="#32CD32"/>
<rect x="618" y="239" width="1" height="35" fill="#22C822"/>
<rect x="616" y="248" width="5" height="16" fill="#22C822"/>
<rect x="617" y="249" width="3" height="14" fill="#32CD32"/>
<rect x="626" y="232" width="1" height="38" fill="#FF0000"/>
<rect x="624" y="246" width="5" height="17" fill="#FF0000"/>
<rect x="625" y="247" width="3" height="15" fill="#FF4500"/>
<rect x="634" y="209" width="1" height="44" fill="#22C822"/>
<rect x="632" y="245" width="5" height="1" fill="#22C822"/>
<rect x="642" y="244" width="1" height="27" fill="#22C822"/>
<rect x="640" y="245" width="5" height="25" fill="#22C822"/>
<rect x="641" y="246" width="3" height="23" fill="#32CD32"/>
<rect x="650" y="262" width="1" height="10" fill="#FF0000"/>
<rect x="648" y="263" width="5" height="8" fill="#FF0000"/>
<rect x="649" y="264" width="3" height="6" fill="#FF4500"/>
<rect x="658" y="263" width="1" height="58" fill="#22C822"/>
<rect x="656" y="263" width="5" height="21" fill="#22C822"/>
<rect x="657" y="264" width="3" height="19" fill="#32CD32"/>
<rect x="666" y="269" width="1" height="34" fill="#FF0000"/>
<rect x="664" y="280" width="5" height="3" fill="#FF0000"/>
<rect x="665" y="281" width="3" height="1" fill="#FF4500"/>
<rect x="674" y="266" width="1" height="52" fill="#22C822"/>
<rect x="672" y="280" width="5" height="23" fill="#22C822"/>
<rect x="673" y="281" width="3" height="21" fill="#32CD32"/>
<rect x="682" y="302" width="1" height="59" fill="#22C822"/>
<rect x="680" y="302" width="5" height="53" fill="#22C822"/>
<rect x="681" y="303" width="3" height="51" fill="#32CD32"/>
<rect x="690" y="347" width="1" height="48" fill="#22C822"/>
<rect x="688" y="354" width="5" height="32" fill="#22C822"/>
<rect x="689" y="355" width="3" height="30" fill="#32CD32"/>
<rect x="698" y="376" width="1" height="7" fill="#FF0000"/>
<rect x="696" y="377" width="5" height="2" fill="#FF0000"/>
<rect x="706" y="329" width="1" height="51" fill="#FF0000"/>
<rect x="704" y="334" width="5" height="44" fill="#FF0000"/>
<rect x="705" y="335" width="3" height="42" fill="#FF4500"/>
<rect x="714" y="292" width="1" height="63" fill="#FF0000"/>
<rect x="712" y="295" width="5" height="40" fill="#FF0000"/>
<rect x="713" y="296" width="3" height="38" fill="#FF4500"/>
<rect x="722" y="280" width="1" height="25" fill="#22C822"/>
<rect x="720" y="294" width="5" height="9" fill="#22C822"/>
<rect x="721" y="295" width="3" height="7" fill="#32CD32"/>
<rect x="730" y="274" width="1" height="36" fill="#FF0000"/>
<rect x="728" y="290" width="5" height="13" fill="#FF0000"/>
<rect x="729" y="291" width="3" height="11" fill="#FF4500"/>
<rect x="738" y="284" width="1" height="61" fill="#22C822"/>
<rect x="736" y="290" width="5" height="41" fill="#22C822"/>
<rect x="737" y="291" width="3" height="39" fill="#32CD32"/>
<rect x="746" y="324" width="1" height="5" fill="#22C822"/>
<rect x="744" y="326" width="5" height="2" fill="#22C822"/>
<rect x="754" y="298" width="1" height="39" fill="#FF0000"/>
<rect x="752" y="299" width="5" height="29" fill="#FF0000"/>
<rect x="753" y="300" width="3" height="27" fill="#FF4500"/>
<rect x="762" y="287" width="1" height="25" fill="#FF0000"/>
<rect x="760" y="288" width="5" height="11" fill="#FF0000"/>
<rect x="761" y="289" width="3" height="9" fill="#FF4500"/>
<rect x="770" y="258" width="1" height="33" fill="#FF0000"/>
<rect x="768" y="269" width="5" height="20" fill="#FF0000"/>
<rect x="769" y="270" width="3" height="18" fill="#FF4500"/>
<rect x="778" y="226" width="1" height="61" fill="#22C822"/>
<rect x="776" y="269" width="5" height="10" fill="#22C822"/>
<rect x="777" y="270" width="3" height="8" fill="#32CD32"/>
<rect x="786" y="264" width="1" height="47" fill="#22C822"/>
<rect x="784" y="278" width="5" height="23" fill="#22C822"/>
<rect x="785" y="279" width="3" height="21" fill="#32CD32"/>
<rect x="794" y="285" width="1" height="14" fill="#FF0000"/>
<rect x="792" y="288" width="5" height="9" fill="#FF0000"/>
<rect x="793" y="289" width="3" height="7" fill="#FF4500"/>
<rect x="802" y="287" width="1" height="37" fill="#22C822"/>
<rect x="800" y="288" width="5" height="9" fill="#22C822"/>
<rect x="801" y="289" width="3" height="7" fill="#32CD32"/>
<rect x="810" y="281" width="1" height="34" fill="#FF0000"/>
<rect x="808" y="286" width="5" height="10" fill="#FF0000"/>
<rect x="809" y="287" width="3" height="8" fill="#FF4500"/>
<rect x="818" y="250" width="1" height="40" fill="#FF0000"/>
<rect x="816" y="260" width="5" height="27" fill="#FF0000"/>
<rect x="817" y="261" width="3" height="25" fill="#FF4500"/>
<rect x="826" y="245" width="1" height="41" fill="#22C822"/>
<rect x="824" y="260" width="5" height="4" fill="#22C822"/>
<rect x="825" y="261" width="3" height="2" fill="#32CD32"/>
<rect x="834" y="239" width="1" height="38" fill="#22C822"/>
<rect x="832" y="263" width="5" height="2" fill="#22C822"/>
<rect x="842" y="270" width="1" height="6" fill="#22C822"/>
<rect x="840" y="271" width="5" height="2" fill="#22C822"/>
<rect x="850" y="242" width="1" height="34" fill="#FF0000"/>
<rect x="848" y="265" width="5" height="7" fill="#FF0000"/>
<rect x="849" y="266" width="3" height="5" fill="#FF4500"/>
<rect x="858" y="235" width="1" height="32" fill="#FF0000"/>
<rect x="856" y="239" width="5" height="27" fill="#FF0000"/>
<rect x="857" y="240" width="3" height="25" fill="#FF4500"/>
<rect x="866" y="205" width="1" height="40" fill="#FF0000"/>
<rect x="864" y="239" width="5" height="1" fill="#FF0000"/>
<rect x="874" y="238" width="1" height="81" fill="#22C822"/>
<rect x="872" y="239" width="5" height="41" fill="#22C822"/>
<rect x="873" y="240" width="3" height="39" fill="#32CD32"/>
<rect x="882" y="233" width="1" height="58" fill="#FF0000"/>
<rect x="880" y="236" width="5" height="43" fill="#FF0000"/>
<rect x="881" y="237" width="3" height="41" fill="#FF4500"/>
<rect x="890" y="262" width="1" height="12" fill="#FF0000"/>
<rect x="888" y="264" width="5" height="5" fill="#FF0000"/>
<rect x="889" y="265" width="3" height="3" fill="#FF4500"/>
<rect x="898" y="215" width="1" height="59" fill="#FF0000"/>
<rect x="896" y="220" width="5" height="44" fill="#FF0000"/>
<rect x="897" y="221" width="3" height="42" fill="#FF4500"/>
<rect x="906" y="202" width="1" height="31" fill="#FF0000"/>
<rect x="904" y="219" width="5" height="2" fill="#FF0000"/>
<rect x="914" y="192" width="1" height="38" fill="#FF0000"/>
<rect x="912" y="200" width="5" height="20" fill="#FF0000"/>
<rect x="913" y="201" width="3" height="18" fill="#FF4500"/>
<rect x="2" y="401" width="1162" height="2" fill="#0000FF"/>
<rect x="1" y="399" width="6" height="6" fill="#0000FF"/><rect x="3" y="401" width="2" height="2" fill="#fff"/>
<rect x="1158" y="399" width="6" height="6" fill="#0000FF"/><rect x="1160" y="401" width="2" height="2" fill="#fff"/>
<rect x="1" y="221" width="6" height="6" fill="#FF0000"/><rect x="3" y="223" width="2" height="2" fill="#fff"/>
<rect x="1158" y="221" width="6" height="6" fill="#FF0000"/><rect x="1160" y="223" width="2" height="2" fill="#fff"/>
<rect x="1" y="310" width="6" height="6" fill="#00FF00"/><rect x="3" y="312" width="2" height="2" fill="#fff"/>
<rect x="1158" y="310" width="6" height="6" fill="#00FF00"/><rect x="1160" y="312" width="2" height="2" fill="#fff"/>
<rect x="2" y="414" width="2" height="19" fill="#C0C0C0"/>
<rect x="9" y="413" width="3" height="20" fill="#C0C0C0"/>
<rect x="17" y="413" width="3" height="20" fill="#C0C0C0"/>
<rect x="25" y="412" width="3" height="21" fill="#C0C0C0"/>
<rect x="33" y="411" width="3" height="22" fill="#C0C0C0"/>
<rect x="41" y="411" width="3" height="22" fill="#C0C0C0"/>
<rect x="49" y="411" width="3" height="22" fill="#C0C0C0"/>
<rect x="57" y="410" width="3" height="23" fill="#C0C0C0"/>
<rect x="65" y="410" width="3" height="23" fill="#C0C0C0"/>
<rect x="73" y="410" width="3" height="23" fill="#C0C0C0"/>
<rect x="81" y="411" width="3" height="22" fill="#C0C0C0"/>
<rect x="89" y="413" width="3" height="20" fill="#C0C0C0"/>
<rect x="97" y="416" width="3" height="17" fill="#C0C0C0"/>
<rect x="105" y="420" width="3" height="13" fill="#C0C0C0"/>
<rect x="113" y="423" width="3" height="10" fill="#C0C0C0"/>
<rect x="121" y="426" width="3" height="7" fill="#C0C0C0"/>
<rect x="129" y="428" width="3" height="5" fill="#C0C0C0"/>
<rect x="137" y="430" width="3" height="3" fill="#C0C0C0"/>
<rect x="145" y="433" width="3" height="2" fill="#C0C0C0"/>
<rect x="153" y="433" width="3" height="6" fill="#C0C0C0"/>
<rect x="161" y="433" width="3" height="8" fill="#C0C0C0"/>
<rect x="169" y="433" width="3" height="10" fill="#C0C0C0"/>
<rect x="177" y="433" width="3" height="10" fill="#C0C0C0"/>
<rect x="185" y="433" width="3" height="12" fill="#C0C0C0"/>
<rect x="193" y="433" width="3" height="15" fill="#C0C0C0"/>
<rect x="201" y="433" width="3" height="16" fill="#C0C0C0"/>
<rect x="209" y="433" width="3" height="18" fill="#C0C0C0"/>
<rect x="217" y="433" width="3" height="19" fill="#C0C0C0"/>
<rect x="225" y="433" width="3" height="22" fill="#C0C0C0"/>
<rect x="233" y="433" width="3" height="23" fill="#C0C0C0"/>
<rect x="241" y="433" width="3" height="24" fill="#C0C0C0"/>
<rect x="249" y="433" width="3" height="25" fill="#C0C0C0"/>
<rect x="257" y="433" width="3" height="28" fill="#C0C0C0"/>
<rect x="265" y="433" width="3" height="30" fill="#C0C0C0"/>
<rect x="273" y="433" width="3" height="31" fill="#C0C0C0"/>
<rect x="281" y="433" width="3" height="31" fill="#C0C0C0"/>
<rect x="289" y="433" width="3" height="32" fill="#C0C0C0"/>
<rect x="297" y="433" width="3" height="32" fill="#C0C0C0"/>
<rect x="305" y="433" width="3" height="36" fill="#C0C0C0"/>
<rect x="313" y="433" width="3" height="38" fill="#C0C0C0"/>
<rect x="321" y="433" width="3" height="38" fill="#C0C0C0"/>
<rect x="329" y="433" width="3" height="35" fill="#C0C0C0"/>
<rect x="337" y="433" width="3" height="31" fill="#C0C0C0"/>
<rect x="345" y="433" width="3" height="28" fill="#C0C0C0"/>
<rect x="353" y="433" width="3" height="24" fill="#C0C0C0"/>
<rect x="361" y="433" width="3" height="21" fill="#C0C0C0"/>
<rect x="369" y="433" width="3" height="20" fill="#C0C0C0"/>
<rect x="377" y="433" width="3" height="20" fill="#C0C0C0"/>
<rect x="385" y="433" width="3" height="17" fill="#C0C0C0"/>
<rect x="393" y="433" width="3" height="15" fill="#C0C0C0"/>
<rect x="401" y="433" width="3" height="14" fill="#C0C0C0"/>
<rect x="409" y="433" width="3" height="13" fill="#C0C0C0"/>
<rect x="417" y="433" width="3" height="14" fill="#C0C0C0"/>
<rect x="425" y="433" width="3" height="13" fill="#C0C0C0"/>
<rect x="433" y="433" width="3" height="8" fill="#C0C0C0"/>
<rect x="441" y="433" width="3" height="6" fill="#C0C0C0"/>
<rect x="449" y="433" width="3" height="3" fill="#C0C0C0"/>
<rect x="457" y="433" width="3" height="1" fill="#C0C0C0"/>
<rect x="465" y="431" width="3" height="2" fill="#C0C0C0"/>
<rect x="473" y="430" width="3" height="3" fill="#C0C0C0"/>
<rect x="481" y="428" width="3" height="5" fill="#C0C0C0"/>
<rect x="489" y="427" width="3" height="6" fill="#C0C0C0"/>
<rect x="497" y="425" width="3" height="8" fill="#C0C0C0"/>
<rect x="505" y="424" width="3" height="9" fill="#C0C0C0"/>
<rect x="513" y="426" width="3" height="7" fill="#C0C0C0"/>
<rect x="521" y="426" width="3" height="7" fill="#C0C0C0"/>
<rect x="529" y="428" width="3" height="5" fill="#C0C0C0"/>
<rect x="537" y="429" width="3" height="4" fill="#C0C0C0"/>
<rect x="545" y="431" width="3" height="2" fill="#C0C0C0"/>
<rect x="553" y="432" width="3" height="1" fill="#C0C0C0"/>
<rect x="561" y="433" width="3" height="1" fill="#C0C0C0"/>
<rect x="569" y="433" width="3" height="1" fill="#C0C0C0"/>
<rect x="577" y="430" width="3" height="3" fill="#C0C0C0"/>
<rect x="585" y="428" width="3" height="5" fill="#C0C0C0"/>
<rect x="593" y="429" width="3" height="4" fill="#C0C0C0"/>
<rect x="601" y="430" width="3" height="3" fill="#C0C0C0"/>
<rect x="609" y="431" width="3" height="2" fill="#C0C0C0"/>
<rect x="617" y="431" width="3" height="2" fill="#C0C0C0"/>
<rect x="625" y="431" width="3" height="2" fill="#C0C0C0"/>
<rect x="633" y="432" width="3" height="1" fill="#C0C0C0"/>
<rect x="641" y="433" width="3" height="1" fill="#C0C0C0"/>
<rect x="649" y="433" width="3" height="2" fill="#C0C0C0"/>
<rect x="657" y="433" width="3" height="4" fill="#C0C0C0"/>
<rect x="665" y="433" width="3" height="5" fill="#C0C0C0"/>
<rect x="673" y="433" width="3" height="7" fill="#C0C0C0"/>
<rect x="681" y="433" width="3" height="12" fill="#C0C0C0"/>
<rect x="689" y="433" width="3" height="17" fill="#C0C0C0"/>
<rect x="697" y="433" width="3" height="21" fill="#C0C0C0"/>
<rect x="705" y="433" width="3" height="21" fill="#C0C0C0"/>
<rect x="713" y="433" width="3" height="18" fill="#C0C0C0"/>
<rect x="721" y="433" width="3" height="17" fill="#C0C0C0"/>
<rect x="729" y="433" width="3" height="15" fill="#C0C0C0"/>
<rect x="737" y="433" width="3" height="16" fill="#C0C0C0"/>
<rect x="745" y="433" width="3" height="15" fill="#C0C0C0"/>
<rect x="753" y="433" width="3" height="13" fill="#C0C0C0"/>
<rect x="761" y="433" width="3" height="11" fill="#C0C0C0"/>
<rect x="769" y="433" width="3" height="8" fill="#C0C0C0"/>
<rect x="777" y="433" width="3" height="6" fill="#C0C0C0"/>
<rect x="785" y="433" width="3" height="6" fill="#C0C0C0"/>
<rect x="793" y="433" width="3" height="5" fill="#C0C0C0"/>
<rect x="801" y="433" width="3" height="5" fill="#C0C0C0"/>
<rect x="809" y="433" width="3" height="4" fill="#C0C0C0"/>
<rect x="817" y="433" width="3" height="2" fill="#C0C0C0"/>
<rect x="825" y="433" width="3" height="1" fill="#C0C0C0"/>
<rect x="833" y="431" width="3" height="2" fill="#C0C0C0"/>
<rect x="841" y="431" width="3" height="2" fill="#C0C0C0"/>
<rect x="849" y="430" width="3" height="3" fill="#C0C0C0"/>
<rect x="857" y="428" width="3" height="5" fill="#C0C0C0"/>
<rect x="865" y="426" width="3" height="7" fill="#C0C0C0"/>
<rect x="873" y="428" width="3" height="5" fill="#C0C0C0"/>
<rect x="881" y="426" width="3" height="7" fill="#C0C0C0"/>
<rect x="889" y="427" width="3" height="6" fill="#C0C0C0"/>
<rect x="897" y="425" width="3" height="8" fill="#C0C0C0"/>
<rect x="905" y="423" width="3" height="10" fill="#C0C0C0"/>
<rect x="913" y="421" width="3" height="12" fill="#C0C0C0"/>
<path d="M67 411h17v1h-17zM54 412h13v1h-13zM84 412h15v1h-15zM45 413h9v1h-9zM99 413h10v1h-10zM41 414h4v1h-4zM109 414h8v1h-8zM37 415h4v1h-4zM117 415h4v1h-4zM31 416h6v1h-6zM121 416h5v1h-5zM24 417h7v1h-7zM126 417h4v1h-4zM19 418h5v1h-5zM130 418h3v1h-3zM16 419h3v1h-3zM133 419h4v1h-4zM12 420h4v1h-4zM137 420h3v1h-3zM9 421h3v1h-3zM140 421h4v1h-4zM7 422h2v1h-2zM144 422h4v1h-4zM5 423h2v1h-2zM148 423h3v1h-3zM3 424h2v1h-2zM151 424h2v1h-2zM2 425h1v1h-1zM153 425h2v1h-2zM155 426h2v1h-2zM912 426h3v1h-3zM157 427h2v1h-2zM525 427h35v1h-35zM907 427h5v1h-5zM159 428h3v1h-3zM519 428h6v1h-6zM560 428h6v1h-6zM898 428h9v1h-9zM162 429h3v1h-3zM513 429h6v1h-6zM566 429h6v1h-6zM886 429h12v1h-12zM165 430h3v1h-3zM508 430h5v1h-5zM572 430h36v1h-36zM630 430h6v1h-6zM876 430h10v1h-10zM168 431h3v1h-3zM503 431h5v1h-5zM608 431h22v1h-22zM636 431h21v1h-21zM868 431h8v1h-8zM171 432h3v1h-3zM498 432h5v1h-5zM657 432h6v1h-6zM860 432h8v1h-8zM174 433h3v1h-3zM493 433h5v1h-5zM663 433h6v1h-6zM852 433h8v1h-8zM177 434h3v1h-3zM488 434h5v1h-5zM669 434h7v1h-7zM846 434h6v1h-6zM180 435h3v1h-3zM484 435h4v1h-4zM676 435h8v1h-8zM840 435h6v1h-6zM183 436h3v1h-3zM480 436h4v1h-4zM684 436h5v1h-5zM834 436h6v1h-6zM186 437h4v1h-4zM476 437h4v1h-4zM689 437h2v1h-2zM828 437h6v1h-6zM190 438h3v1h-3zM472 438h4v1h-4zM691 438h2v1h-2zM824 438h4v1h-4zM193 439h3v1h-3zM468 439h4v1h-4zM693 439h3v1h-3zM820 439h4v1h-4zM196 440h3v1h-3zM463 440h5v1h-5zM696 440h2v1h-2zM813 440h7v1h-7zM199 441h4v1h-4zM458 441h5v1h-5zM698 441h4v1h-4zM805 441h8v1h-8zM203 442h4v1h-4zM453 442h5v1h-5zM702 442h5v1h-5zM797 442h8v1h-8zM207 443h4v1h-4zM448 443h5v1h-5zM707 443h5v1h-5zM790 443h7v1h-7zM211 444h4v1h-4zM443 444h5v1h-5zM712 444h5v1h-5zM785 444h5v1h-5zM215 445h4v1h-4zM438 445h5v1h-5zM717 445h5v1h-5zM780 445h5v1h-5zM219 446h4v1h-4zM434 446h4v1h-4zM722 446h5v1h-5zM775 446h5v1h-5zM223 447h5v1h-5zM430 447h4v1h-4zM727 447h6v1h-6zM770 447h5v1h-5zM228 448h4v1h-4zM426 448h4v1h-4zM733 448h8v1h-8zM762 448h8v1h-8zM232 449h4v1h-4zM422 449h4v1h-4zM741 449h21v1h-21zM236 450h4v1h-4zM417 450h5v1h-5zM240 451h4v1h-4zM412 451h5v1h-5zM244 452h4v1h-4zM407 452h5v1h-5zM248 453h5v1h-5zM402 453h5v1h-5zM253 454h5v1h-5zM397 454h5v1h-5zM258 455h5v1h-5zM393 455h4v1h-4zM263 456h5v1h-5zM389 456h4v1h-4zM268 457h5v1h-5zM385 457h4v1h-4zM273 458h6v1h-6zM381 458h4v1h-4zM279 459h6v1h-6zM378 459h3v1h-3zM285 460h6v1h-6zM374 460h4v1h-4zM291 461h6v1h-6zM371 461h3v1h-3zM297 462h6v1h-6zM368 462h3v1h-3zM303 463h4v1h-4zM364 463h4v1h-4zM307 464h5v1h-5zM359 464h5v1h-5zM312 465h10v1h-10zM353 465h6v1h-6zM322 466h31v1h-31z" fill="#FF0000"/>
<path d="M2 496h1v1h-1zM3 497h1v1h-1zM4 498h1v1h-1zM5 499h1v1h-1zM39 499h4v1h-4zM57 499h6v1h-6zM6 500h2v1h-2zM36 500h3v1h-3zM43 500h5v1h-5zM53 500h4v1h-4zM63 500h6v1h-6zM8 501h1v1h-1zM32 501h4v1h-4zM48 501h5v1h-5zM69 501h14v1h-14zM9 502h1v1h-1zM29 502h3v1h-3zM83 502h1v1h-1zM10 503h19v1h-19zM83 503h1v1h-1zM84 504h1v1h-1zM496 504h6v1h-6zM85 505h1v1h-1zM480 505h6v1h-6zM492 505h4v1h-4zM502 505h5v1h-5zM579 505h8v1h-8zM857 505h10v1h-10zM911 505h4v1h-4zM86 506h1v1h-1zM476 506h4v1h-4zM486 506h6v1h-6zM507 506h1v1h-1zM578 506h1v1h-1zM587 506h1v1h-1zM855 506h2v1h-2zM867 506h1v1h-1zM899 506h12v1h-12zM86 507h1v1h-1zM440 507h7v1h-7zM454 507h22v1h-22zM508 507h1v1h-1zM577 507h1v1h-1zM588 507h1v1h-1zM853 507h2v1h-2zM868 507h1v1h-1zM882 507h2v1h-2zM897 507h2v1h-2zM87 508h1v1h-1zM437 508h3v1h-3zM447 508h7v1h-7zM509 508h1v1h-1zM576 508h1v1h-1zM589 508h1v1h-1zM818 508h5v1h-5zM851 508h2v1h-2zM869 508h1v1h-1zM880 508h2v1h-2zM884 508h2v1h-2zM895 508h2v1h-2zM88 509h1v1h-1zM97 509h2v1h-2zM435 509h2v1h-2zM510 509h1v1h-1zM523 509h2v1h-2zM574 509h2v1h-2zM590 509h2v1h-2zM770 509h3v1h-3zM816 509h2v1h-2zM823 509h17v1h-17zM847 509h4v1h-4zM870 509h1v1h-1zM879 509h1v1h-1zM886 509h2v1h-2zM894 509h1v1h-1zM89 510h1v1h-1zM94 510h3v1h-3zM99 510h2v1h-2zM434 510h1v1h-1zM510 510h1v1h-1zM521 510h2v1h-2zM525 510h4v1h-4zM573 510h1v1h-1zM592 510h1v1h-1zM767 510h3v1h-3zM773 510h4v1h-4zM814 510h2v1h-2zM840 510h7v1h-7zM871 510h1v1h-1zM878 510h1v1h-1zM888 510h2v1h-2zM892 510h2v1h-2zM89 511h1v1h-1zM92 511h2v1h-2zM101 511h1v1h-1zM432 511h2v1h-2zM511 511h1v1h-1zM519 511h2v1h-2zM529 511h2v1h-2zM572 511h1v1h-1zM593 511h1v1h-1zM765 511h2v1h-2zM777 511h3v1h-3zM812 511h2v1h-2zM872 511h1v1h-1zM876 511h2v1h-2zM890 511h2v1h-2zM90 512h2v1h-2zM102 512h2v1h-2zM430 512h2v1h-2zM512 512h1v1h-1zM517 512h2v1h-2zM531 512h2v1h-2zM571 512h1v1h-1zM594 512h1v1h-1zM599 512h8v1h-8zM759 512h6v1h-6zM780 512h3v1h-3zM793 512h6v1h-6zM807 512h5v1h-5zM873 512h1v1h-1zM875 512h1v1h-1zM104 513h1v1h-1zM387 513h10v1h-10zM429 513h1v1h-1zM513 513h1v1h-1zM515 513h2v1h-2zM533 513h1v1h-1zM569 513h2v1h-2zM595 513h4v1h-4zM607 513h6v1h-6zM625 513h12v1h-12zM728 513h3v1h-3zM753 513h6v1h-6zM783 513h3v1h-3zM789 513h4v1h-4zM799 513h8v1h-8zM874 513h1v1h-1zM105 514h2v1h-2zM128 514h4v1h-4zM352 514h13v1h-13zM385 514h2v1h-2zM397 514h2v1h-2zM427 514h2v1h-2zM514 514h1v1h-1zM534 514h2v1h-2zM546 514h5v1h-5zM565 514h4v1h-4zM613 514h4v1h-4zM621 514h4v1h-4zM637 514h2v1h-2zM715 514h4v1h-4zM724 514h4v1h-4zM731 514h2v1h-2zM751 514h2v1h-2zM786 514h3v1h-3zM107 515h3v1h-3zM124 515h4v1h-4zM132 515h2v1h-2zM337 515h5v1h-5zM348 515h4v1h-4zM365 515h2v1h-2zM384 515h1v1h-1zM399 515h2v1h-2zM425 515h2v1h-2zM536 515h1v1h-1zM543 515h3v1h-3zM551 515h14v1h-14zM617 515h4v1h-4zM639 515h3v1h-3zM647 515h6v1h-6zM713 515h2v1h-2zM719 515h5v1h-5zM733 515h2v1h-2zM749 515h2v1h-2zM110 516h14v1h-14zM134 516h2v1h-2zM335 516h2v1h-2zM342 516h6v1h-6zM367 516h2v1h-2zM382 516h2v1h-2zM401 516h5v1h-5zM422 516h3v1h-3zM537 516h2v1h-2zM541 516h2v1h-2zM642 516h5v1h-5zM653 516h2v1h-2zM711 516h2v1h-2zM735 516h2v1h-2zM747 516h2v1h-2zM136 517h3v1h-3zM333 517h2v1h-2zM369 517h3v1h-3zM381 517h1v1h-1zM406 517h8v1h-8zM419 517h3v1h-3zM539 517h2v1h-2zM655 517h3v1h-3zM663 517h5v1h-5zM710 517h1v1h-1zM737 517h2v1h-2zM743 517h4v1h-4zM139 518h2v1h-2zM175 518h4v1h-4zM331 518h2v1h-2zM372 518h4v1h-4zM379 518h2v1h-2zM414 518h5v1h-5zM658 518h5v1h-5zM668 518h2v1h-2zM708 518h2v1h-2zM739 518h4v1h-4zM141 519h3v1h-3zM163 519h12v1h-12zM179 519h3v1h-3zM330 519h1v1h-1zM376 519h3v1h-3zM670 519h2v1h-2zM707 519h1v1h-1zM144 520h2v1h-2zM161 520h2v1h-2zM182 520h4v1h-4zM329 520h1v1h-1zM672 520h2v1h-2zM706 520h1v1h-1zM146 521h2v1h-2zM159 521h2v1h-2zM186 521h4v1h-4zM328 521h1v1h-1zM674 521h2v1h-2zM705 521h1v1h-1zM148 522h3v1h-3zM157 522h2v1h-2zM190 522h4v1h-4zM199 522h5v1h-5zM327 522h1v1h-1zM676 522h2v1h-2zM704 522h1v1h-1zM151 523h2v1h-2zM155 523h2v1h-2zM194 523h5v1h-5zM204 523h3v1h-3zM326 523h1v1h-1zM678 523h1v1h-1zM702 523h2v1h-2zM153 524h2v1h-2zM207 524h3v1h-3zM325 524h1v1h-1zM679 524h1v1h-1zM701 524h1v1h-1zM210 525h23v1h-23zM324 525h1v1h-1zM680 525h2v1h-2zM700 525h1v1h-1zM233 526h5v1h-5zM323 526h1v1h-1zM682 526h2v1h-2zM699 526h1v1h-1zM238 527h6v1h-6zM322 527h1v1h-1zM684 527h3v1h-3zM697 527h2v1h-2zM244 528h4v1h-4zM266 528h14v1h-14zM320 528h2v1h-2zM687 528h3v1h-3zM693 528h4v1h-4zM248 529h3v1h-3zM264 529h2v1h-2zM280 529h6v1h-6zM319 529h1v1h-1zM690 529h3v1h-3zM251 530h3v1h-3zM262 530h2v1h-2zM286 530h8v1h-8zM318 530h1v1h-1zM254 531h3v1h-3zM260 531h2v1h-2zM294 531h6v1h-6zM316 531h2v1h-2zM257 532h3v1h-3zM300 532h2v1h-2zM314 532h2v1h-2zM302 533h2v1h-2zM311 533h3v1h-3zM304 534h2v1h-2zM309 534h2v1h-2zM306 535h3v1h-3z" fill="#1E90FF"/>
<rect x="1165" y="37" width="2" height="1" fill="#000"/>
<rect x="1165" y="70" width="2" height="1" fill="#000"/>
<rect x="1165" y="103" width="2" height="1" fill="#000"/>
<rect x="1165" y="136" width="2" height="1" fill="#000"/>
<rect x="1165" y="169" width="2" height="1" fill="#000"/>
<rect x="1165" y="202" width="2" height="1" fill="#000"/>
<rect x="1165" y="235" width="2" height="1" fill="#000"/>
<rect x="1165" y="268" width="2" height="1" fill="#000"/>
<rect x="1165" y="301" width="2" height="1" fill="#000"/>
<rect x="1165" y="334" width="2" height="1" fill="#000"/>
<rect x="1165" y="367" width="2" height="1" fill="#000"/>
<rect x="1165" y="400" width="2" height="1" fill="#000"/>
<rect x="1165" y="433" width="1" height="1" fill="#000"/>
<rect x="1165" y="403" width="1" height="1" fill="#000"/>
<rect x="1165" y="405" width="1" height="1" fill="#000"/>
<rect x="1165" y="474" width="1" height="1" fill="#000"/>
<rect x="1165" y="476" width="1" height="1" fill="#000"/>
<rect x="1165" y="548" width="1" height="1" fill="#000"/>
<rect x="2" y="549" width="1" height="3" fill="#000"/>
<rect x="66" y="549" width="1" height="3" fill="#000"/>
<rect x="130" y="549" width="1" height="3" fill="#000"/>
<rect x="194" y="549" width="1" height="3" fill="#000"/>
<rect x="258" y="549" width="1" height="3" fill="#000"/>
<rect x="322" y="549" width="1" height="3" fill="#000"/>
<rect x="386" y="549" width="1" height="3" fill="#000"/>
<rect x="450" y="549" width="1" height="3" fill="#000"/>
<rect x="514" y="549" width="1" height="3" fill="#000"/>
<rect x="578" y="549" width="1" height="3" fill="#000"/>
<rect x="642" y="549" width="1" height="3" fill="#000"/>
<rect x="706" y="549" width="1" height="3" fill="#000"/>
<rect x="770" y="549" width="1" height="3" fill="#000"/>
<rect x="834" y="549" width="1" height="3" fill="#000"/>
<rect x="898" y="549" width="1" height="3" fill="#000"/>
</svg>
<div class="abs" id="panel">
  <!-- coordinates relative to panel (panel origin 3,42) -->
  <div class="blue" style="left:2px;top:26px;width:109px;height:33px;background:linear-gradient(#3838e4,#0606ae);box-shadow:inset 0 1px 0 #1010b0;"></div>
  <div class="blue" style="left:113px;top:26px;width:108px;height:33px;background:linear-gradient(#3838e4,#0606ae);box-shadow:inset 0 1px 0 #1010b0;"></div>
  <div class="blue" style="left:2px;top:2px;width:52px;height:25px;background:linear-gradient(#5a5aff,#3a3ae2);box-shadow:inset 1px 1px 0 #0a0ab4,inset -1px 0 0 #0a0ab4;"></div>
  <div class="blue" style="left:169px;top:2px;width:52px;height:25px;background:linear-gradient(#5a5aff,#3a3ae2);box-shadow:inset 1px 1px 0 #0a0ab4,inset -1px 0 0 #0a0ab4;"></div>
  <div class="blue" style="left:6px;top:25px;width:44px;height:1px;background:#0c0c98;"></div>
  <div class="blue" style="left:6px;top:26px;width:44px;height:1px;background:#6c6cf8;"></div>
  <div class="blue" style="left:173px;top:25px;width:44px;height:1px;background:#0c0c98;"></div>
  <div class="blue" style="left:173px;top:26px;width:44px;height:1px;background:#6c6cf8;"></div>
  <!-- spinner -->
  <div class="blue" style="left:56px;top:2px;width:111px;height:22px;background:#fff;border:1px solid #a9acb4;box-sizing:border-box;"></div>
  <div class="blue" style="left:77px;top:3px;width:1px;height:20px;background:#a9acb4;"></div>
  <div class="blue" style="left:145px;top:3px;width:1px;height:20px;background:#a9acb4;"></div>
  <div class="blue" style="left:58px;top:4px;width:18px;height:18px;background:linear-gradient(#f3f3f3 0,#ebebeb 33%,#dddddd 34%,#cfcfcf 100%);"></div>
  <div class="blue" style="left:147px;top:4px;width:18px;height:18px;background:linear-gradient(#f3f3f3 0,#ebebeb 33%,#dddddd 34%,#cfcfcf 100%);"></div>
  <svg class="blue" style="left:64px;top:11px" width="5" height="3" shape-rendering="crispEdges"><rect x="0" y="0" width="5" height="1" fill="#6a86e2"/><rect x="1" y="1" width="3" height="1" fill="#4c62b8"/><rect x="2" y="2" width="1" height="1" fill="#3c4680"/></svg>
  <svg class="blue" style="left:153px;top:10px" width="5" height="3" shape-rendering="crispEdges"><rect x="2" y="0" width="1" height="1" fill="#8a9ce4"/><rect x="1" y="1" width="3" height="1" fill="#6a80d0"/><rect x="0" y="2" width="5" height="1" fill="#5468b8"/></svg>
  <span class="t" style="left:118.5px;top:6px;font-size:12px;color:#000;">1.00</span>
  <span class="t" style="left:13.8px;top:7.6px;font-size:11px;color:#fff;">SELL</span>
  <span class="t" style="left:181.7px;top:7.3px;font-size:11.3px;color:#fff;">BUY</span>
  <span class="t" style="left:21.2px;top:43.3px;font-size:11.5px;color:#fff;font-weight:bold;letter-spacing:0.7px;">0.72</span>
  <span class="t" style="left:131.2px;top:43.3px;font-size:11.5px;color:#fff;font-weight:bold;letter-spacing:0.7px;">0.72</span>
  <svg class="blue" style="left:0;top:0" width="223" height="61"><defs><linearGradient id="bgg" gradientUnits="userSpaceOnUse" x1="0" y1="26" x2="0" y2="59"><stop offset="0" stop-color="#3838e4"/><stop offset="1" stop-color="#0606ae"/></linearGradient></defs>
  <g font-family="Liberation Sans, sans-serif" font-size="35.3" fill="#fff" stroke="url(#bgg)" stroke-width="0.6" transform="scale(0.93 1)"><text x="52.9" y="54.15">92</text><text x="171.8" y="54.15">94</text></g></svg>
  <span class="t" style="left:88.9px;top:27.3px;font-size:12.5px;color:#fff;font-weight:bold;-webkit-text-stroke:0.3px #fff;">0</span>
  <span class="t" style="left:199.4px;top:27.3px;font-size:12.5px;color:#fff;font-weight:bold;-webkit-text-stroke:0.3px #fff;">0</span>
</div>
<svg class="abs" style="left:5px;top:30px" width="8" height="6"><path d="M0 5 L7 5 L3.5 1 Z" fill="#000"/></svg>
<div class="abs" id="tabl0"></div><div class="abs" id="tabl1"></div><div class="abs" id="tabbar"></div><div class="abs" id="tabl2"></div>
<div class="abs" id="tabact"></div>
<div class="abs tsep" style="left:103px"></div><div class="abs tsep" style="left:427px"></div><div class="abs tsep" style="left:535px"></div><div class="abs tsep" style="left:647px"></div><div class="abs tsep" style="left:747px"></div><div class="abs tsep" style="left:827px"></div><div class="abs tsep" style="left:915px"></div><div class="abs tsep" style="left:999px"></div>
<svg class="abs" style="left:1170px;top:570px" width="34" height="20"><path d="M9.8 10 L13.4 6.6 L13.4 13.4 Z" fill="#8c8c8c"/><path d="M32.6 10 L29 6.6 L29 13.4 Z" fill="#8c8c8c"/></svg>
<span class="t" style="left:1170px;top:31.0px;font-size:9.9px;color:#000;font-weight:normal;letter-spacing:0px;transform:scaleX(0.925);">0.75640</span>
<span class="t" style="left:1170px;top:64.0px;font-size:9.9px;color:#000;font-weight:normal;letter-spacing:0px;transform:scaleX(0.925);">0.75100</span>
<span class="t" style="left:1170px;top:97.0px;font-size:9.9px;color:#000;font-weight:normal;letter-spacing:0px;transform:scaleX(0.925);">0.74545</span>
<span class="t" style="left:1170px;top:163.0px;font-size:9.9px;color:#000;font-weight:normal;letter-spacing:0px;transform:scaleX(0.925);">0.73435</span>
<span class="t" style="left:1170px;top:229.0px;font-size:9.9px;color:#000;font-weight:normal;letter-spacing:0px;transform:scaleX(0.925);">0.72325</span>
<span class="t" style="left:1170px;top:262.0px;font-size:9.9px;color:#000;font-weight:normal;letter-spacing:0px;transform:scaleX(0.925);">0.71770</span>
<span class="t" style="left:1170px;top:295.0px;font-size:9.9px;color:#000;font-weight:normal;letter-spacing:0px;transform:scaleX(0.925);">0.71215</span>
<span class="t" style="left:1170px;top:328.0px;font-size:9.9px;color:#000;font-weight:normal;letter-spacing:0px;transform:scaleX(0.925);">0.70660</span>
<span class="t" style="left:1170px;top:361.0px;font-size:9.9px;color:#000;font-weight:normal;letter-spacing:0px;transform:scaleX(0.925);">0.70120</span>
<span class="t" style="left:1168px;top:406.0px;font-size:9.9px;color:#000;font-weight:normal;letter-spacing:0px;transform:scaleX(0.925);">0.006201</span>
<span class="t" style="left:1168px;top:427.0px;font-size:9.9px;color:#000;font-weight:normal;letter-spacing:0px;transform:scaleX(0.925);">0.00</span>
<span class="t" style="left:1168px;top:462.0px;font-size:9.9px;color:#000;font-weight:normal;letter-spacing:0px;transform:scaleX(0.925);">-0.00919</span>
<span class="t" style="left:1168px;top:478.0px;font-size:9.9px;color:#000;font-weight:normal;letter-spacing:0px;transform:scaleX(0.925);">100</span>
<span class="t" style="left:1167px;top:493.0px;font-size:9.9px;color:#000;font-weight:normal;letter-spacing:0px;transform:scaleX(0.925);">70</span>
<span class="t" style="left:1167px;top:520.0px;font-size:9.9px;color:#000;font-weight:normal;letter-spacing:0px;transform:scaleX(0.925);">30</span>
<span class="t" style="left:1168px;top:535.0px;font-size:9.9px;color:#000;font-weight:normal;letter-spacing:0px;transform:scaleX(0.925);">0</span>
<div class="abs" style="left:1166px;top:39px;width:38px;height:11px;background:#FF0000"></div>
<span class="t" style="left:1170px;top:38.0px;font-size:9.9px;color:#fff;font-weight:normal;letter-spacing:0px;transform:scaleX(0.925);">0.75512</span>
<div class="abs" style="left:1166px;top:129px;width:38px;height:11px;background:#FF0000"></div>
<span class="t" style="left:1170px;top:128.0px;font-size:9.9px;color:#fff;font-weight:normal;letter-spacing:0px;transform:scaleX(0.925);">0.74002</span>
<div class="abs" style="left:1166px;top:195px;width:38px;height:11px;background:#000"></div>
<span class="t" style="left:1170px;top:194.0px;font-size:9.9px;color:#fff;font-weight:normal;letter-spacing:0px;transform:scaleX(0.925);">0.72920</span>
<div class="abs" style="left:1166px;top:218px;width:38px;height:11px;background:#FF0000"></div>
<span class="t" style="left:1170px;top:217.0px;font-size:9.9px;color:#fff;font-weight:normal;letter-spacing:0px;transform:scaleX(0.925);">0.72513</span>
<div class="abs" style="left:1166px;top:307px;width:38px;height:11px;background:#00FF00"></div>
<span class="t" style="left:1170px;top:306.0px;font-size:9.9px;color:#fff;font-weight:normal;letter-spacing:0px;transform:scaleX(0.925);">0.71013</span>
<div class="abs" style="left:1166px;top:396px;width:38px;height:11px;background:#0000FF"></div>
<span class="t" style="left:1170px;top:395.0px;font-size:9.9px;color:#fff;font-weight:normal;letter-spacing:0px;transform:scaleX(0.925);">0.69520</span>
<span class="t" style="left:0.5px;top:551.6px;font-size:9.9px;color:#000;font-weight:normal;letter-spacing:0px;transform:scaleX(0.94);">20 Oct 2021</span>
<span class="t" style="left:64.5px;top:551.6px;font-size:9.9px;color:#000;font-weight:normal;letter-spacing:0px;transform:scaleX(0.94);">29 Oct 2021</span>
<span class="t" style="left:128.5px;top:551.6px;font-size:9.9px;color:#000;font-weight:normal;letter-spacing:0px;transform:scaleX(0.94);">8 Nov 2021</span>
<span class="t" style="left:192.5px;top:551.6px;font-size:9.9px;color:#000;font-weight:normal;letter-spacing:0px;transform:scaleX(0.94);">17 Nov 2021</span>
<span class="t" style="left:256.5px;top:551.6px;font-size:9.9px;color:#000;font-weight:normal;letter-spacing:0px;transform:scaleX(0.94);">26 Nov 2021</span>
<span class="t" style="left:320.5px;top:551.6px;font-size:9.9px;color:#000;font-weight:normal;letter-spacing:0px;transform:scaleX(0.94);">6 Dec 2021</span>
<span class="t" style="left:384.5px;top:551.6px;font-size:9.9px;color:#000;font-weight:normal;letter-spacing:0px;transform:scaleX(0.94);">15 Dec 2021</span>
<span class="t" style="left:448.5px;top:551.6px;font-size:9.9px;color:#000;font-weight:normal;letter-spacing:0px;transform:scaleX(0.94);">24 Dec 2021</span>
<span class="t" style="left:512.5px;top:551.6px;font-size:9.9px;color:#000;font-weight:normal;letter-spacing:0px;transform:scaleX(0.94);">3 Jan 2022</span>
<span class="t" style="left:576.5px;top:551.6px;font-size:9.9px;color:#000;font-weight:normal;letter-spacing:0px;transform:scaleX(0.94);">12 Jan 2022</span>
<span class="t" style="left:640.5px;top:551.6px;font-size:9.9px;color:#000;font-weight:normal;letter-spacing:0px;transform:scaleX(0.94);">21 Jan 2022</span>
<span class="t" style="left:704.5px;top:551.6px;font-size:9.9px;color:#000;font-weight:normal;letter-spacing:0px;transform:scaleX(0.94);">31 Jan 2022</span>
<span class="t" style="left:768.5px;top:551.6px;font-size:9.9px;color:#000;font-weight:normal;letter-spacing:0px;transform:scaleX(0.94);">9 Feb 2022</span>
<span class="t" style="left:832.5px;top:551.6px;font-size:9.9px;color:#000;font-weight:normal;letter-spacing:0px;transform:scaleX(0.94);">18 Feb 2022</span>
<span class="t" style="left:896.5px;top:551.6px;font-size:9.9px;color:#000;font-weight:normal;letter-spacing:0px;transform:scaleX(0.94);">28 Feb 2022</span>
<span class="t" style="left:17.3px;top:27px;font-size:9.9px;color:#000;font-weight:normal;letter-spacing:0px;transform:scaleX(0.99);">AUDUSD-,Daily</span>
<span class="t" style="left:91.7px;top:27px;font-size:9.9px;color:#000;font-weight:normal;letter-spacing:0px;transform:scaleX(0.94);">0.72595 0.73055 0.72425 0.72920</span>
<span class="t" style="left:5.8px;top:409px;font-size:9.9px;color:#000;font-weight:normal;letter-spacing:0px;transform:scaleX(0.97);">MACD(12,26,9)</span>
<span class="t" style="left:74.9px;top:409px;font-size:9.9px;color:#000;font-weight:normal;letter-spacing:0px;transform:scaleX(0.94);">0.002889 0.001723</span>
<span class="t" style="left:5.6px;top:480px;font-size:9.9px;color:#000;font-weight:normal;letter-spacing:0px;transform:scaleX(0.955);">RSI(14) 62.3252</span>
<span class="t" style="left:-3.2px;top:2.5px;font-size:9.9px;color:#303030;font-weight:normal;letter-spacing:0px;transform:scaleX(1.03);">5</span>
<span class="t" style="left:13.0px;top:2.5px;font-size:9.9px;color:#303030;font-weight:normal;letter-spacing:0px;transform:scaleX(1.03);">M30</span>
<span class="t" style="left:44.2px;top:2.5px;font-size:9.9px;color:#303030;font-weight:normal;letter-spacing:0px;transform:scaleX(1.03);">H1</span>
<span class="t" style="left:71.1px;top:2.5px;font-size:9.9px;color:#303030;font-weight:normal;letter-spacing:0px;transform:scaleX(1.03);">H4</span>
<span class="t" style="left:100.1px;top:2.5px;font-size:9.9px;color:#303030;font-weight:normal;letter-spacing:0px;transform:scaleX(1.03);">D1</span>
<span class="t" style="left:127.9px;top:2.5px;font-size:9.9px;color:#303030;font-weight:normal;letter-spacing:0px;transform:scaleX(1.03);">W1</span>
<span class="t" style="left:154.1px;top:2.5px;font-size:9.9px;color:#303030;font-weight:normal;letter-spacing:0px;transform:scaleX(1.03);">MN</span>
<span class="t" style="left:13.2px;top:574.4px;font-size:13.8px;color:#6d6d6d;font-weight:normal;letter-spacing:0px;transform:scaleX(0.885);">USDX,Weekly</span>
<span class="t" style="left:113px;top:574.4px;font-size:13.8px;color:#6d6d6d;font-weight:normal;letter-spacing:0px;transform:scaleX(0.885);">EURUSD-,Daily</span>
<span class="t" style="left:221.5px;top:574.4px;font-size:13.8px;color:#000;font-weight:normal;letter-spacing:0px;transform:scaleX(0.885);">AUDUSD-,Daily</span>
<span class="t" style="left:330.7px;top:574.4px;font-size:13.8px;color:#6d6d6d;font-weight:normal;letter-spacing:0px;transform:scaleX(0.885);">USDCHF-,Daily</span>
<span class="t" style="left:437.4px;top:574.4px;font-size:13.8px;color:#6d6d6d;font-weight:normal;letter-spacing:0px;transform:scaleX(0.885);">USDCAD-,Daily</span>
<span class="t" style="left:546.7px;top:574.4px;font-size:13.8px;color:#6d6d6d;font-weight:normal;letter-spacing:0px;transform:scaleX(0.885);">USDCNH-,Daily</span>
<span class="t" style="left:658px;top:574.4px;font-size:13.8px;color:#6d6d6d;font-weight:normal;letter-spacing:0px;transform:scaleX(0.885);">XAUUSD-,M5</span>
<span class="t" style="left:757.9px;top:574.4px;font-size:13.8px;color:#6d6d6d;font-weight:normal;letter-spacing:0px;transform:scaleX(0.885);">UKOil-,H1</span>
<span class="t" style="left:838.2px;top:574.4px;font-size:13.8px;color:#6d6d6d;font-weight:normal;letter-spacing:0px;transform:scaleX(0.885);">DJ30-,Daily</span>
<span class="t" style="left:926.3px;top:574.4px;font-size:13.8px;color:#6d6d6d;font-weight:normal;letter-spacing:0px;transform:scaleX(0.885);">UK100-,H1</span>
</body></html>
